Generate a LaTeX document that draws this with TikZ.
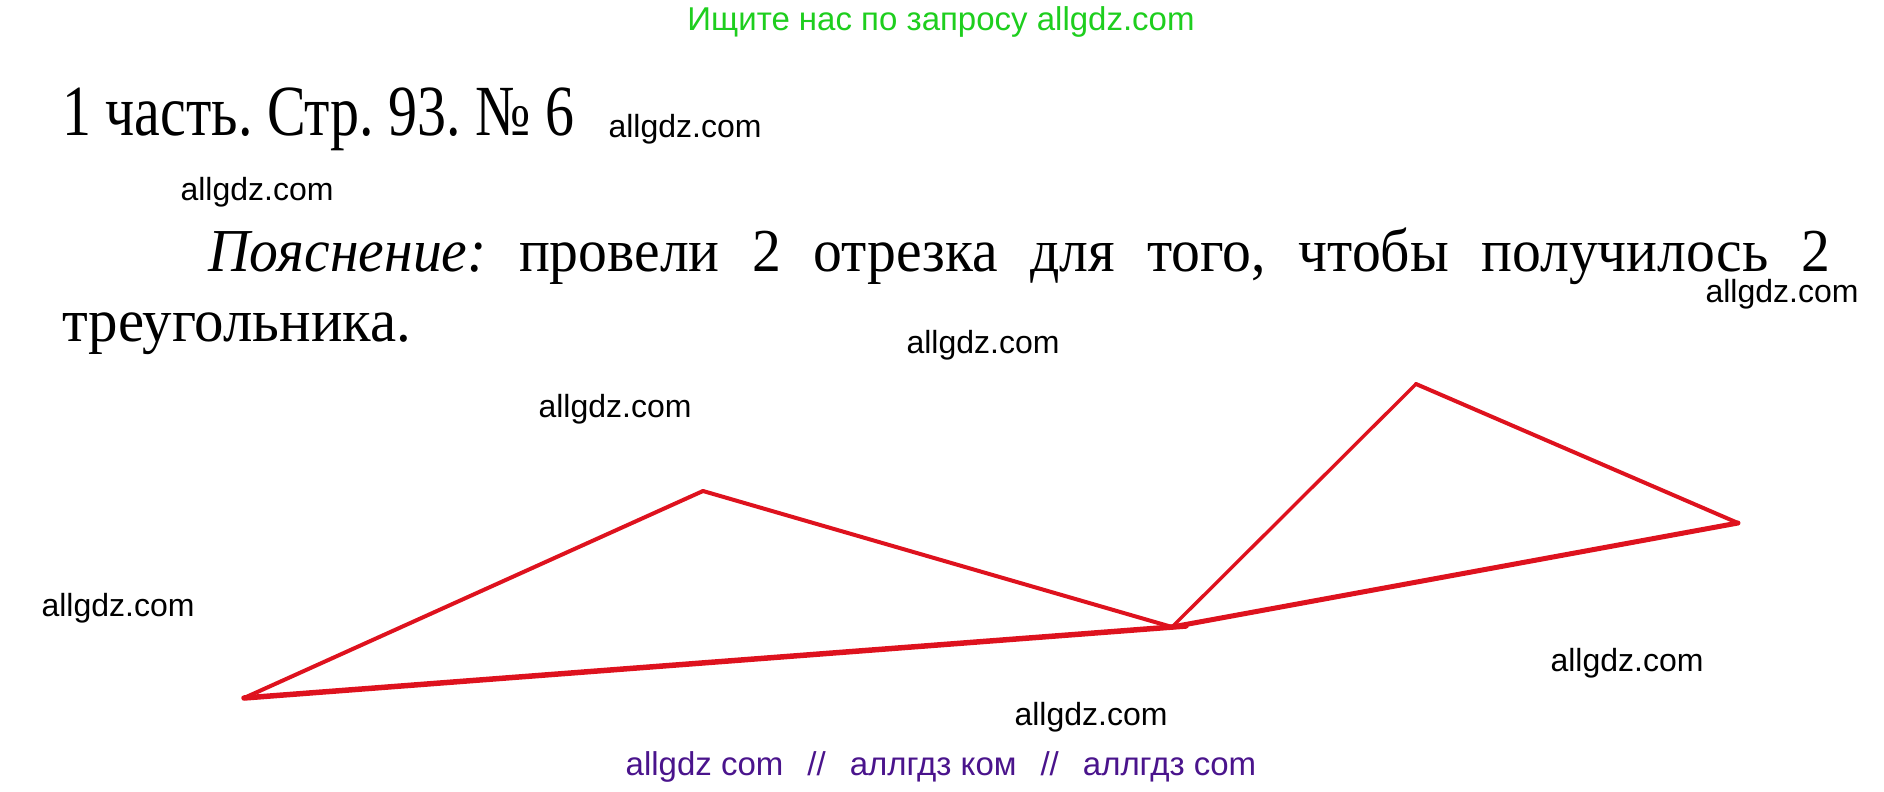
\documentclass[tikz,border=0pt]{standalone}
\usepackage{fontspec}
\setmainfont{Liberation Serif}
\newfontfamily\wmfont{Liberation Sans}
\usepackage{graphicx}
\usepackage{tikz}
\frenchspacing
\definecolor{segred}{RGB}{222,18,30}
\definecolor{topgreen}{RGB}{30,206,30}
\definecolor{botpurple}{RGB}{74,20,140}
\tikzset{
  seg/.style={color=segred, line width=#1, line cap=round, line join=round},
  seg/.default=4pt,
  wmark/.style={inner sep=0pt, font=\wmfont\fontsize{32}{36}\selectfont, text=black},
}

\begin{document}
\begin{tikzpicture}[x=1pt,y=1pt,yscale=-1,xscale=1]
\useasboundingbox (0,0) rectangle (1884,792);

% Vertices
\coordinate (A) at (244,698);
\coordinate (B) at (703,491);
\coordinate (C) at (1172,627);
\coordinate (Cx) at (1186,626);
\coordinate (D) at (1416,384);
\coordinate (E) at (1738,523);

%Straight Lines
\draw [seg] (A) -- (B) ;
\draw [seg] (B) -- (C) ;
\draw [seg=5.5pt] (A) -- (Cx) ;
%Straight Lines
\draw [seg=3.4pt] (C) -- (D) ;
\draw [seg] (D) -- (E) ;
\draw [seg=5pt] (C) -- (E) ;

% Text Node
\node (head) [inner sep=0pt, text=topgreen, font=\wmfont\fontsize{33}{38}\selectfont] at (941,22) {Ищите нас по запросу allgdz.com};
% Text Node
\node (title) [anchor=base west, inner sep=0pt, font=\fontsize{72}{80}\selectfont] at (62,135) {\scalebox{0.805}[1]{1 часть. Стр. 93. № 6}};
% Text Node
\node (line1) [anchor=base west, inner sep=0pt, font=\fontsize{61}{72}\selectfont] at (208,271) {\scalebox{0.945}[1]{\makebox[1716pt][s]{\textit{Пояснение:} провели 2 отрезка для того, чтобы получилось 2}}};
% Text Node
\node (line2) [anchor=base west, inner sep=0pt, font=\fontsize{61}{72}\selectfont] at (62,341) {\scalebox{0.965}[1]{треугольника.}};
% Text Node
\node (foot) [inner sep=0pt, text=botpurple, font=\wmfont\fontsize{33}{38}\selectfont] at (941,767) {allgdz com\hspace{24pt}//\hspace{24pt}аллгдз ком\hspace{24pt}//\hspace{24pt}аллгдз com};

% Watermarks
\node (wm1) [wmark] at (685,129) {allgdz.com};
\node (wm2) [wmark] at (257,192) {allgdz.com};
\node (wm3) [wmark] at (1782,294) {allgdz.com};
\node (wm4) [wmark] at (983,345) {allgdz.com};
\node (wm5) [wmark] at (615,409) {allgdz.com};
\node (wm6) [wmark] at (118,608) {allgdz.com};
\node (wm7) [wmark] at (1627,663) {allgdz.com};
\node (wm8) [wmark] at (1091,717) {allgdz.com};

\end{tikzpicture}
\end{document}
